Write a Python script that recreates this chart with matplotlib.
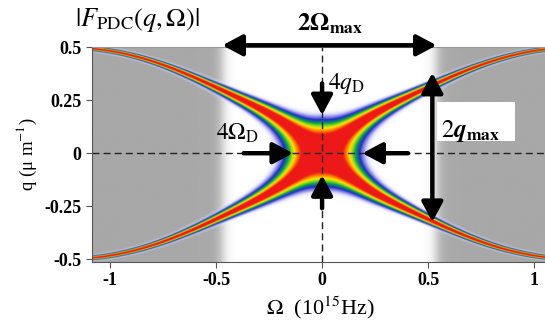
import numpy as np
import matplotlib
matplotlib.use('Agg')
import matplotlib.pyplot as plt
from matplotlib.colors import LinearSegmentedColormap
from matplotlib.patches import Rectangle

plt.rcParams['font.family'] = ['Liberation Serif', 'DejaVu Serif']
plt.rcParams['mathtext.fontset'] = 'stix'

# ticks
omega_ticks = [-1, -0.5, 0, 0.5, 1]
omega_labels = ['-1', '-0.5', '0', '0.5', '1']
q_ticks = [0.5, 0.25, 0, -0.25, -0.5]
q_labels = ['0.5', '0.25', '0', '-0.25', '-0.5']

# phase matching ridge q = q_max*sin(theta(Omega)), band width
q_max = 0.5
ridge_k = 1.32
ridge_core = 0.45
ridge_core_w = 0.3
width0 = 0.022
width_decay = 1.45

# 2*Omega_max window, grey outside
omega_lo = -0.47
omega_hi = 0.54
grey_level = 0.66

# 2q_max arrow and 4q_D / 4Omega_D arrows (start, tip)
qmax_arrow_omega = 0.52
qmax_arrow_q = (-0.325, 0.38)
qd_top = (0.33, 0.18)
qd_bottom = (-0.26, -0.104)
od_left = (-0.37, -0.137)
od_right = (0.405, 0.19)

omega = np.linspace(-1.1, 1.1, 900)
q = np.linspace(-0.53, 0.53, 500)
W, Q = np.meshgrid(omega, q)

theta = ridge_k * W + ridge_core * W * np.exp(-(W / ridge_core_w)**2)
ridge = q_max * np.sin(theta)
width = width0 / (1 + width_decay * np.abs(W))
delta = (ridge**2 - Q**2) / width
F = np.exp(-delta**2)

left_w = 1 / (1 + np.exp((W - omega_lo) / 0.015))
right_w = 1 / (1 + np.exp(-(W - omega_hi) / 0.015))
bg = 1 - (1 - grey_level) * (left_w + right_w)

cmap = LinearSegmentedColormap.from_list('pdc', [
    (0.00, (1, 1, 1, 0)),
    (0.04, (0.85, 0.85, 0.98, 0.35)),
    (0.12, (0.60, 0.60, 0.92, 0.9)),
    (0.25, (0.15, 0.15, 0.80, 1)),
    (0.42, (0.0, 0.65, 0.30, 1)),
    (0.55, (0.55, 0.85, 0.10, 1)),
    (0.66, (1.0, 0.90, 0.0, 1)),
    (0.78, (1.0, 0.50, 0.0, 1)),
    (0.88, (0.93, 0.10, 0.10, 1)),
    (1.00, (0.93, 0.10, 0.10, 1)),
])

fig = plt.figure(figsize=(5.45, 3.31), dpi=100)
ax = fig.add_axes([0.1688, 0.2085, 0.8385, 0.6495])
ext = [omega[0], omega[-1], q[0], q[-1]]
ax.imshow(bg, extent=ext, origin='lower', cmap='gray', vmin=0, vmax=1,
          aspect='auto', interpolation='bilinear')
ax.imshow(F, extent=ext, origin='lower', cmap=cmap, vmin=0, vmax=1,
          aspect='auto', interpolation='bilinear')
ax.set_xlim(-1.085, 1.07)
ax.set_ylim(-0.514, 0.502)

ax.axhline(0, color='#222222', lw=1, ls=(0, (5, 3)))
ax.axvline(0, color='#222222', lw=1, ls=(0, (5, 3)))

ax.set_xticks(omega_ticks)
ax.set_xticklabels(omega_labels, fontweight='bold')
ax.set_yticks(q_ticks)
ax.set_yticklabels(q_labels, fontweight='bold')
ax.tick_params(labelsize=13, direction='out', length=4, color='#555555')
for side in ['left', 'bottom']:
    ax.spines[side].set_color('#555555')
for side in ['top', 'right']:
    ax.spines[side].set_color('#999999')

ax.set_xlabel(r'$\Omega$  (10$^{15}$Hz)', fontsize=16, labelpad=4)
ax.set_ylabel('q (μ m$^{-1}$)', fontsize=13.5, labelpad=4)
fig.text(75 / 545, 1 - 20 / 331, r'$|F_{\mathrm{PDC}}(q,\Omega)|$',
         fontsize=19, va='center', ha='left')
fig.text(330 / 545, 1 - 24 / 331, r'$\mathbf{2\Omega_{max}}$',
         fontsize=18, va='center', ha='center')

def arrow(start, tip, style='-|>'):
    ax.annotate('', xy=tip, xytext=start, annotation_clip=False,
                arrowprops=dict(arrowstyle=style + ',head_length=0.6,head_width=0.32',
                                lw=3.2, color='k', mutation_scale=20,
                                shrinkA=0, shrinkB=0))

arrow((omega_lo, 0.51), (omega_hi, 0.51), '<|-|>')
arrow((qmax_arrow_omega, qmax_arrow_q[0]), (qmax_arrow_omega, qmax_arrow_q[1]), '<|-|>')
arrow((0, qd_top[0]), (0, qd_top[1]))
arrow((0, qd_bottom[0]), (0, qd_bottom[1]))
arrow((od_left[0], 0), (od_left[1], 0))
arrow((od_right[0], 0), (od_right[1], 0))

ax.add_patch(Rectangle((0.54, 0.06), 0.37, 0.18, facecolor='white',
                       edgecolor='none', zorder=3))
ax.text(0.56, 0.105, r'$2\boldsymbol{q}_{\mathbf{max}}$', fontsize=18,
        va='center', ha='left', zorder=4)
ax.text(0.03, 0.33, r'$4q_{\mathrm{D}}$', fontsize=17, va='center', ha='left')
ax.text(-0.5, 0.095, r'$4\Omega_{\mathrm{D}}$', fontsize=17, va='center', ha='left')

fig.savefig('out.png', dpi=100)
